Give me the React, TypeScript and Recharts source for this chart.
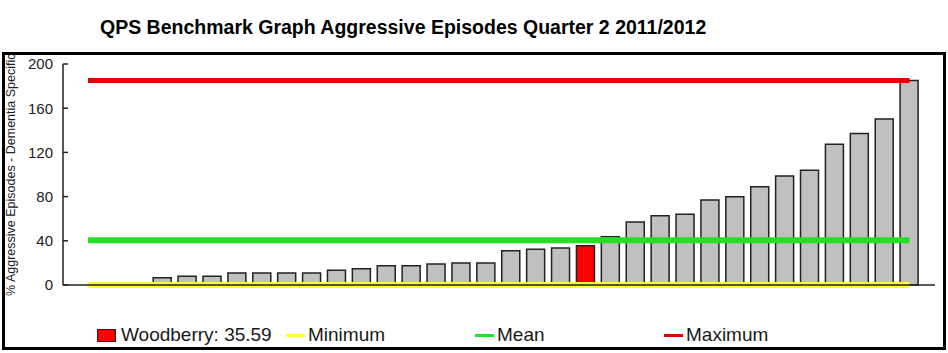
import React from 'react';
import { ComposedChart, Bar, Line, Cell, XAxis, YAxis, Legend, Label } from 'recharts';

const chartTitle = 'QPS Benchmark Graph Aggressive Episodes Quarter 2 2011/2012';
const yAxisTitle = '% Aggressive Episodes - Dementia Specific';
const yTicks = [0, 40, 80, 120, 160, 200];

// one bar per facility, sorted low to high
const facilityValues = [
  0, 0, 0, 6.6, 7.9, 7.9, 10.9, 10.9, 10.9, 10.9, 13.4, 14.8, 17.5, 17.5, 19, 19.9, 19.9,
  31, 32.3, 33.5, 35.59, 43.7, 57, 62.7, 64, 76.9, 79.9, 89, 98.6, 103.8, 127.3, 137, 150.2, 185,
];
const highlightIndex = 20;
const highlightName = 'Woodberry';

const minimumValue = 0;
const meanValue = 40.5;
const maximumValue = 185;

const font = '"Liberation Sans", Arial, sans-serif';

const data = facilityValues.map((v, i) => ({
  name: 'F' + (i + 1),
  value: v,
  min: minimumValue,
  mean: meanValue,
  max: maximumValue,
}));

const legendItems = [
  { label: highlightName + ': ' + facilityValues[highlightIndex], color: '#ff0000', box: true },
  { label: 'Minimum', color: '#ffff33', box: false },
  { label: 'Mean', color: '#22e022', box: false },
  { label: 'Maximum', color: '#e80000', box: false },
];

const renderLegend = () => (
  <div style={{ height: 24, display: 'flex', alignItems: 'center', paddingLeft: 92, fontFamily: font, fontSize: 19, color: '#1a1a1a' }}>
    {legendItems.map((it) => (
      <div key={it.label} style={{ width: 189, display: 'flex', alignItems: 'center', whiteSpace: 'nowrap' }}>
        {it.box ? (
          <span style={{ display: 'inline-block', width: 17, height: 11, background: it.color, border: '1px solid #222', marginRight: 5 }} />
        ) : (
          <span style={{ display: 'inline-block', width: 19, height: 3, background: it.color, marginRight: 3 }} />
        )}
        {it.label}
      </div>
    ))}
  </div>
);

// axis title runs up past the top of the frame, as in the source
const renderYLabel = (props) => {
  const vb = props.viewBox || { x: 0, y: 0, width: 0, height: 0 };
  const x = vb.x + 10;
  const y = vb.y + vb.height + 11;
  return (
    <text x={x} y={y} transform={`rotate(-90, ${x}, ${y})`} textAnchor="start" fontSize={12.5} fontFamily={font} fill="#222">
      {yAxisTitle}
    </text>
  );
};

export default function App() {
  return (
    <div style={{ position: 'absolute', left: 0, top: 0, width: 948, height: 353, background: '#fff' }}>
      <div style={{ position: 'absolute', left: 100, top: 16, fontFamily: font, fontWeight: 'bold', fontSize: 19.5, lineHeight: '22px', color: '#000', whiteSpace: 'nowrap' }}>
        {chartTitle}
      </div>
      <div style={{ position: 'absolute', left: 2, top: 52, width: 944, height: 298, border: '3px solid #000', boxSizing: 'border-box' }} />
      <div style={{ position: 'absolute', left: 5, top: 55 }}>
        <ComposedChart width={938} height={292} data={data} margin={{ top: 9, right: 8, bottom: 0, left: 0 }}>
          <XAxis
            dataKey="name"
            height={38}
            tick={false}
            tickLine={false}
            axisLine={{ stroke: '#222', strokeWidth: 1.5 }}
            padding={{ left: 12.5, right: 13 }}
          />
          <XAxis xAxisId="top" orientation="top" dataKey="name" height={0} tick={false} tickLine={false} axisLine={{ stroke: '#444', strokeWidth: 2 }} />
          <YAxis
            domain={[0, 200]}
            ticks={yTicks}
            width={58}
            tickSize={-5}
            tickMargin={15}
            tickLine={{ stroke: '#222', strokeWidth: 1.5 }}
            axisLine={{ stroke: '#222', strokeWidth: 1.5 }}
            tick={{ fill: '#222', fontSize: 15, fontFamily: font }}
          >
            <Label content={renderYLabel} />
          </YAxis>
          <YAxis yAxisId="right" orientation="right" width={0} tick={false} tickLine={false} axisLine={{ stroke: '#444', strokeWidth: 2 }} />
          <Legend verticalAlign="bottom" align="left" content={renderLegend} />
          <Bar dataKey="value" barSize={18} fill="#c0c0c0" stroke="#222" strokeWidth={1.5} isAnimationActive={false}>
            {data.map((d, i) => (
              <Cell key={d.name} fill={i === highlightIndex ? '#ff0000' : '#c0c0c0'} />
            ))}
          </Bar>
          <Line dataKey="min" stroke="#ffff33" strokeWidth={6} dot={false} activeDot={false} isAnimationActive={false} />
          <Line dataKey="mean" stroke="#22e022" strokeWidth={6} dot={false} activeDot={false} isAnimationActive={false} />
          <Line dataKey="max" stroke="#e80000" strokeWidth={5} dot={false} activeDot={false} isAnimationActive={false} />
        </ComposedChart>
      </div>
    </div>
  );
}
